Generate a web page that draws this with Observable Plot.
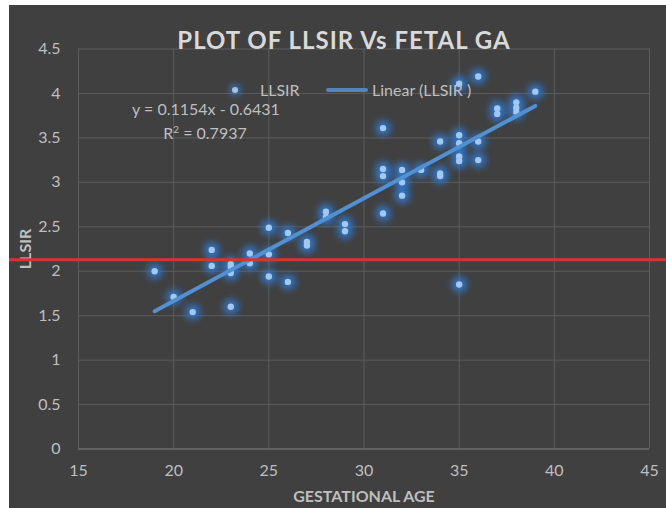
<!DOCTYPE html>
<html>
<head>
<meta charset="utf-8">
<script src="https://cdn.jsdelivr.net/npm/d3@7"></script>
<script src="https://cdn.jsdelivr.net/npm/@observablehq/plot@0.6"></script>
<style>
  html, body { margin: 0; padding: 0; background: #ffffff; }
  #chart { position: absolute; left: 9px; top: 5px; width: 657px; height: 503px; background: #404040; font-family: Lato, "Open Sans", sans-serif; overflow: hidden; }
  #chart svg { position: absolute; left: 0; top: 0; }
  .ov { position: absolute; white-space: nowrap; color: #bfbfbf; font-size: 16px; line-height: 1; }
  #title { left: 335px; top: 23px; transform: translateX(-50%); font-size: 24px; letter-spacing: 1px; font-weight: bold; color: #d9d9d9; }
  #eq1 { left: 197px; top: 96px; transform: translateX(-50%); }
  #eq2 { left: 196px; top: 119px; transform: translateX(-50%); }
  #lg1dot { left: 223px; top: 82px; width: 6px; height: 6px; border-radius: 50%; background: #9dc3e6; box-shadow: 0 0 6px 3px rgba(60,125,210,0.7); }
  #lg1txt { left: 251px; top: 77px; }
  #lg2line { left: 317px; top: 83px; width: 42px; height: 4px; border-radius: 2px; background: #4f86c0; }
  #lg2txt { left: 363px; top: 77px; }
  g[aria-label="x-axis label"] text, g[aria-label="y-axis label"] text { font-weight: bold; }
</style>
</head>
<body>
<div id="chart">
  <div id="title" class="ov">PLOT OF LLSIR Vs FETAL GA</div>
  <div id="lg1dot" class="ov"></div>
  <div id="lg1txt" class="ov">LLSIR</div>
  <div id="lg2line" class="ov"></div>
  <div id="lg2txt" class="ov">Linear (LLSIR )</div>
  <div id="eq1" class="ov">y = 0.1154x - 0.6431</div>
  <div id="eq2" class="ov">R<sup style="font-size:10px;vertical-align:6px">2</sup> = 0.7937</div>
</div>
<script>
// Gestational age (weeks) and LLSIR values
const ga = [19, 20, 21, 22, 22, 23, 23, 23, 23, 24, 24, 25, 25, 25, 26, 26, 27, 27, 28, 28, 29, 29,
            31, 31, 31, 31, 32, 32, 32, 33, 34, 34, 34, 35, 35, 35, 35, 35, 35, 36, 36, 36, 37, 37, 38, 38, 38, 39];
const llsir = [2.00, 1.71, 1.54, 2.24, 2.06, 2.08, 2.05, 1.98, 1.60, 2.20, 2.09, 2.49, 2.19, 1.94, 2.43, 1.88, 2.33, 2.29, 2.67, 2.61, 2.53, 2.45,
               3.61, 3.15, 3.07, 2.65, 3.14, 3.00, 2.85, 3.14, 3.46, 3.10, 3.07, 4.11, 3.53, 3.44, 3.29, 3.24, 1.85, 4.19, 3.46, 3.25, 3.83, 3.77, 3.90, 3.84, 3.79, 4.02];
// Linear trendline endpoints
const trendGA = [19, 39];
const trendLLSIR = [1.55, 3.86];
// Red reference line
const redLine = [2.13];
// Tick values
const xTicks = [15, 20, 25, 30, 35, 40, 45];
const yTicks = [0, 0.5, 1, 1.5, 2, 2.5, 3, 3.5, 4, 4.5];

const points = ga.map((g, i) => ({ga: g, llsir: llsir[i]}));
const trend = trendGA.map((g, i) => ({ga: g, llsir: trendLLSIR[i]}));

const plot = Plot.plot({
  width: 657,
  height: 503,
  marginLeft: 69,
  marginRight: 17,
  marginTop: 43.5,
  marginBottom: 59.5,
  style: {background: "transparent", color: "#bfbfbf", fontFamily: "Lato, 'Open Sans', sans-serif", fontSize: "16px"},
  x: {domain: [15, 45]},
  y: {domain: [0, 4.5]},
  marks: [
    Plot.gridX(xTicks, {stroke: "#5c5c5c", strokeOpacity: 1}),
    Plot.gridY(yTicks.filter(d => d > 0), {stroke: "#5c5c5c", strokeOpacity: 1}),
    Plot.ruleY([0], {stroke: "#858585"}),
    Plot.axisX({ticks: xTicks, tickSize: 0, tickPadding: 16, tickFormat: d => `${d}`, label: "GESTATIONAL AGE", labelAnchor: "center", labelArrow: "none", labelOffset: 53}),
    Plot.axisY({ticks: yTicks, tickSize: 0, tickPadding: 18, tickFormat: d => `${d}`, label: "LLSIR", labelAnchor: "center", labelArrow: "none", labelOffset: 59}),
    Plot.dot(points, {x: "ga", y: "llsir", r: 7.5, fill: "#2f78d0", fillOpacity: 0.95, stroke: "none"}),
    Plot.dot(points, {x: "ga", y: "llsir", r: 3.2, fill: "#a3c8ee", stroke: "none"}),
    Plot.line(trend, {x: "ga", y: "llsir", stroke: "#5190d2", strokeWidth: 4, strokeLinecap: "round"}),
    Plot.ruleY(redLine, {stroke: "#d93330", strokeWidth: 3, insetLeft: -70, insetRight: -17})
  ]
});

// soft glow behind the points
const ns = "http://www.w3.org/2000/svg";
const defs = document.createElementNS(ns, "defs");
defs.innerHTML = '<filter id="glow" x="-100%" y="-100%" width="300%" height="300%"><feGaussianBlur stdDeviation="3.5"/></filter>';
plot.insertBefore(defs, plot.firstChild);
const dotLayers = plot.querySelectorAll('g[aria-label="dot"]');
if (dotLayers.length) dotLayers[0].setAttribute("filter", "url(#glow)");

document.getElementById("chart").insertBefore(plot, document.getElementById("chart").firstChild);
</script>
</body>
</html>
